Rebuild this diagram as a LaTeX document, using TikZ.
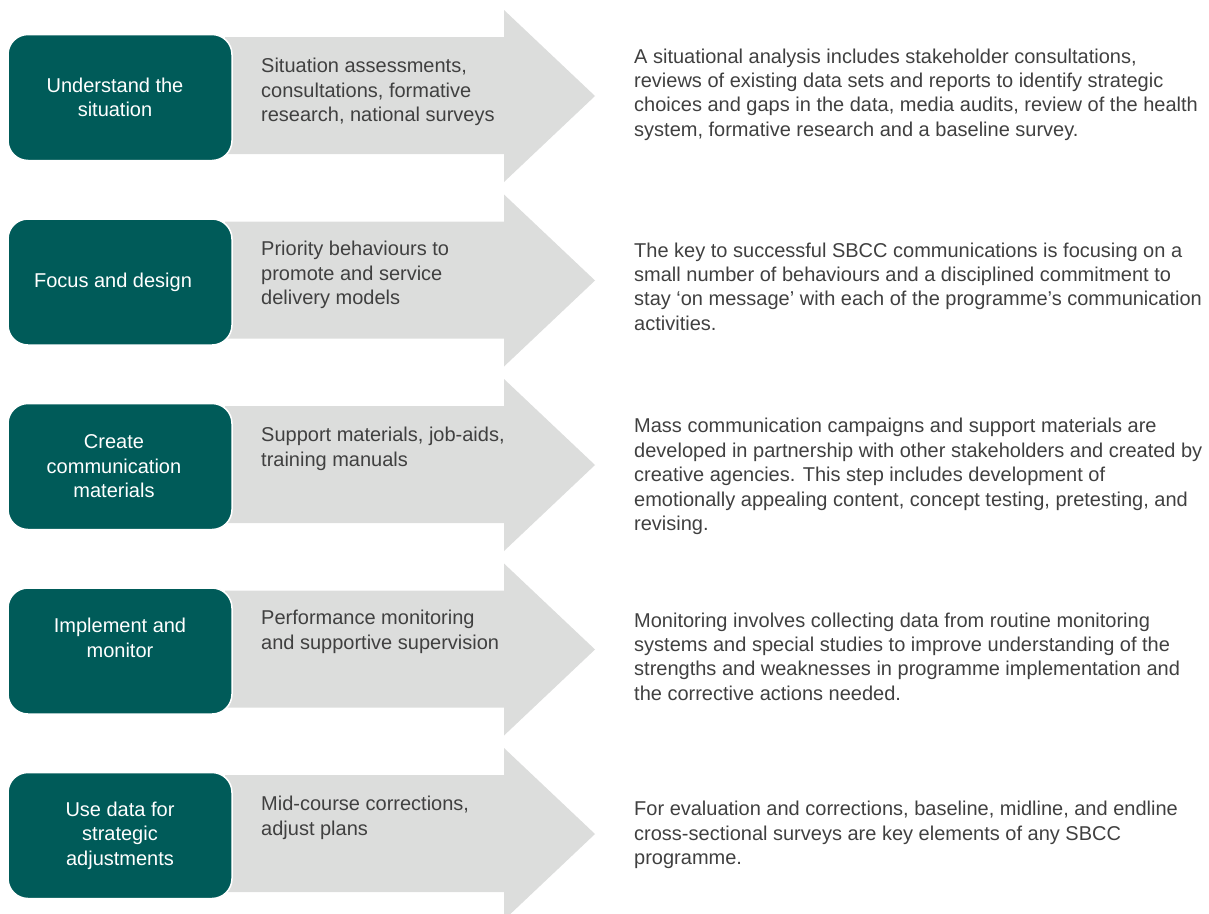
\documentclass[tikz,border=0pt]{standalone}
\usepackage{fontspec}
\setmainfont{Liberation Sans}

\definecolor{stepteal}{HTML}{005B59}
\definecolor{arrowgray}{HTML}{DCDDDC}
\definecolor{txtgray}{HTML}{404040}

% one gray arrow behind a step, #1 = row centre
\newcommand{\grayarrow}[1]{%
  \fill[arrowgray] (225,#1-59) -- (504,#1-59) -- (504,#1-86) -- (595,#1)
    -- (504,#1+86) -- (504,#1+58) -- (225,#1+58) -- cycle;}

\begin{document}
\begin{tikzpicture}[x=1pt, y=-1pt,
  every node/.style={font=\fontsize{20}{24.4}\selectfont, inner sep=0pt},
  stepbox/.style={fill=stepteal, draw=white, line width=1.5pt, rounded corners=20pt,
    minimum width=224pt, minimum height=126pt},
  steplabel/.style={text=white, align=center},
  acttext/.style={anchor=west, align=left, text=txtgray},
  desctext/.style={anchor=west, align=left, text=txtgray}]
  \path[use as bounding box, clip] (0,0) rectangle (1209,913);

  \grayarrow{96}
  \grayarrow{280.5}
  \grayarrow{465}
  \grayarrow{649.5}
  \grayarrow{834}

  \node(box1)[stepbox] at (120,97.5) {};
  \node(box2)[stepbox] at (120,282) {};
  \node(box3)[stepbox] at (120,466.5) {};
  \node(box4)[stepbox] at (120,651) {};
  \node(box5)[stepbox] at (120,835.5) {};
  \node(lbl1)[steplabel] at ([xshift=-5pt]box1.center) {Understand the\\situation};
  \node(lbl2)[steplabel] at ([xshift=-7pt]box2.center) {Focus and design};
  \node(lbl3)[steplabel] at ([xshift=-6pt]box3.center) {Create\\communication\\materials};
  \node(lbl4)[steplabel] at ([yshift=13pt]box4.center) {Implement and\\monitor};
  \node(lbl5)[steplabel] at (box5.center) {Use data for\\strategic\\adjustments};

  \node(act1)[acttext] at (261,92) {Situation assessments,\\consultations, formative\\research, national surveys};
  \node(act2)[acttext] at (261,275) {Priority behaviours to\\promote and service\\delivery models};
  \node(act3)[acttext] at (261,449) {Support materials, job-aids,\\training manuals};
  \node(act4)[acttext] at (261,632) {Performance monitoring\\and supportive supervision};
  \node(act5)[acttext] at (261,818) {Mid-course corrections,\\adjust plans};

  \node(desc1)[desctext] at (634,94.5) {A situational analysis includes stakeholder consultations,\\reviews of existing data sets and reports to identify strategic\\choices and gaps in the data, media audits, review of the health\\system, formative research and a baseline survey.};
  \node(desc2)[desctext] at (634,286.5) {The key to successful SBCC communications is focusing on a\\small number of behaviours and a disciplined commitment to\\stay `on message' with each of the programme's communication\\activities.};
  \node(desc3)[desctext] at (634,476.5) {Mass communication campaigns and support materials are\\developed in partnership with other stakeholders and created by\\creative agencies. This step includes development of\\emotionally appealing content, concept testing, pretesting, and\\revising.};
  \node(desc4)[desctext] at (634,656.5) {Monitoring involves collecting data from routine monitoring\\systems and special studies to improve understanding of the\\strengths and weaknesses in programme implementation and\\the corrective actions needed.};
  \node(desc5)[desctext] at (634,835) {For evaluation and corrections, baseline, midline, and endline\\cross-sectional surveys are key elements of any SBCC\\programme.};
\end{tikzpicture}
\end{document}
